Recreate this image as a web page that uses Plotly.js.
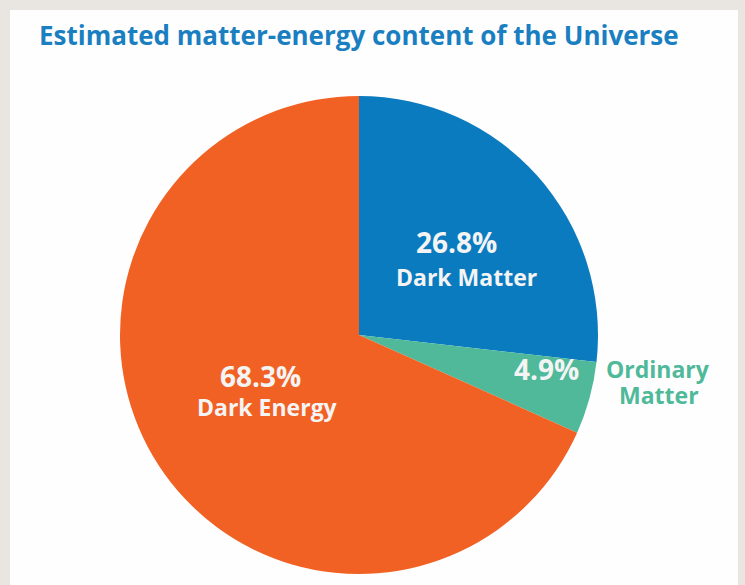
<!DOCTYPE html>
<html><head><meta charset="utf-8">
<script src="https://cdn.plot.ly/plotly-3.0.1.min.js"></script>
<style>html,body{margin:0;padding:0;background:#e9e6e1;}#chart{width:745px;height:585px;}</style>
</head><body><div id="chart"></div>
<script>
const categories = ["Dark Matter", "Ordinary Matter", "Dark Energy"];
const values = [26.8, 4.9, 68.3];
const pctLabels = ["26.8%", "4.9%", "68.3%"];
const sliceColors = ["#0a7bbf", "#4fb99a", "#f16124"];
const titleText = "Estimated matter-energy content of the Universe";

const W = 745, H = 585;
const cx = 359, cy = 335, R = 239;
const px = x => x / W, py = y => 1 - y / H;

const font = "'Open Sans', 'Noto Sans', sans-serif";
const pctSize = 28, nameSize = 23;

const trace = {
  type: "pie",
  labels: categories,
  values: values,
  sort: false,
  direction: "clockwise",
  rotation: 0,
  marker: {colors: sliceColors, line: {width: 0}},
  textinfo: "none",
  hoverinfo: "label+percent",
  showlegend: false,
  domain: {x: [px(cx - R), px(cx + R)], y: [py(cy + R), py(cy - R)]}
};

const omWords = categories[1].split(" ");

const annotations = [
  {x: px(456), y: py(242), text: "<b>" + pctLabels[0] + "</b>", font: {size: pctSize, color: "#f4f4f4", family: font}},
  {x: px(466), y: py(277), text: "<b>" + categories[0] + "</b>", font: {size: nameSize, color: "#f4f4f4", family: font}},
  {x: px(546), y: py(369), text: "<b>" + pctLabels[1] + "</b>", font: {size: pctSize, color: "#f4f4f4", family: font}},
  {x: px(658), y: py(369), text: "<b>" + omWords[0] + "</b>", font: {size: nameSize, color: "#4fb99a", family: font}},
  {x: px(659), y: py(395), text: "<b>" + omWords[1] + "</b>", font: {size: nameSize, color: "#4fb99a", family: font}},
  {x: px(260), y: py(376), text: "<b>" + pctLabels[2] + "</b>", font: {size: pctSize, color: "#f4f4f4", family: font}},
  {x: px(267), y: py(407), text: "<b>" + categories[2] + "</b>", font: {size: nameSize, color: "#f4f4f4", family: font}}
].map(a => Object.assign({xref: "paper", yref: "paper", showarrow: false, xanchor: "center", yanchor: "middle"}, a));

const layout = {
  width: W, height: H,
  margin: {l: 0, r: 0, t: 0, b: 0},
  paper_bgcolor: "#e9e6e1",
  plot_bgcolor: "rgba(0,0,0,0)",
  title: {
    text: "<b>" + titleText + "</b>",
    x: px(39), xanchor: "left", xref: "paper",
    y: 1 - 36 / H, yanchor: "middle", yref: "container",
    font: {size: 26, color: "#1a7fc1", family: font}
  },
  shapes: [{
    type: "rect", xref: "paper", yref: "paper", layer: "below",
    x0: px(10), x1: px(738), y0: py(590), y1: py(10),
    fillcolor: "#fefefe", line: {width: 0}
  }],
  annotations: annotations
};

Plotly.newPlot("chart", [trace], layout, {displayModeBar: false, staticPlot: true});
</script></body></html>
